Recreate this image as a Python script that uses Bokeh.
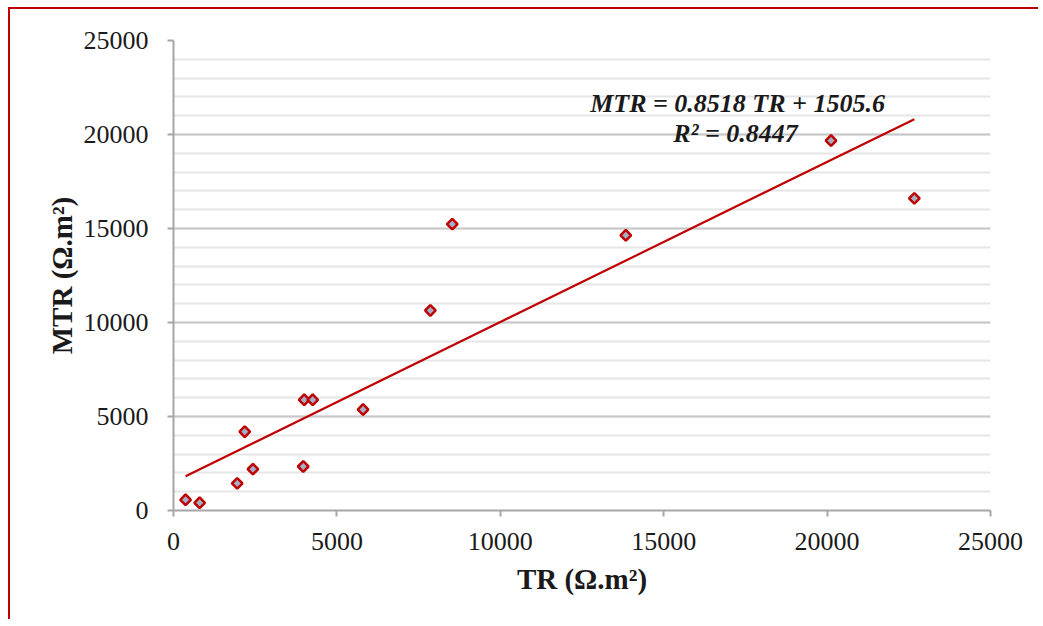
import math
from bokeh.plotting import figure
from bokeh.models import ColumnDataSource, SingleIntervalTicker, Range1d
from bokeh.embed import file_html
from bokeh.resources import INLINE
from bokeh.core.properties import value

# data
tr = [370, 800, 1950, 2180, 2430, 3970, 4000, 4260, 5800, 7860, 8530, 13840, 20120, 22670]
mtr = [570, 410, 1440, 4190, 2200, 2340, 5890, 5890, 5370, 10640, 15230, 14640, 19680, 16600]
slope = 0.8518
intercept = 1505.6
eq_line1 = "MTR = 0.8518 TR + 1505.6"
eq_line2 = "R² = 0.8447"
x_label = "TR (Ω.m²)"
y_label = "MTR (Ω.m²)"

red = "#c00000"
serif = "Liberation Serif"

p = figure(width=1030, height=612, output_backend="svg", toolbar_location=None,
           x_range=Range1d(0, 25000), y_range=Range1d(0, 25000),
           min_border_left=163, min_border_right=50, min_border_top=31, min_border_bottom=111)
p.margin = (7, 0, 0, 8)
p.styles = {"border-left": f"2px solid {red}", "border-top": f"2px solid {red}"}
p.outline_line_color = None
p.background_fill_color = "white"

for ax in (p.xaxis[0], p.yaxis[0]):
    ax.ticker = SingleIntervalTicker(interval=5000, num_minor_ticks=5)
    ax.axis_line_color = "#a6a6a6"
    ax.axis_line_width = 2
    ax.major_tick_line_color = "#a6a6a6"
    ax.major_tick_line_width = 2
    ax.major_tick_out = 6
    ax.major_tick_in = 0
    ax.minor_tick_line_color = None
    ax.major_label_text_font = serif
    ax.major_label_text_font_size = "26px"
    ax.major_label_text_color = "#1a1a1a"
    ax.axis_label_text_font = serif
    ax.axis_label_text_font_style = "bold"
    ax.axis_label_text_font_size = "29px"
    ax.axis_label_text_color = "#1a1a1a"

p.xaxis[0].axis_label = x_label
p.yaxis[0].axis_label = y_label
p.xaxis[0].major_label_standoff = 16
p.yaxis[0].major_label_standoff = 19
p.xaxis[0].axis_label_standoff = 10
p.yaxis[0].axis_label_standoff = 3

p.xgrid.visible = False
p.ygrid[0].ticker = SingleIntervalTicker(interval=5000, num_minor_ticks=5)
p.ygrid[0].grid_line_color = "#c8c8c8"
p.ygrid[0].grid_line_width = 2
p.ygrid[0].minor_grid_line_color = "#e6e6e6"
p.ygrid[0].minor_grid_line_width = 2

# trend line
x0, x1 = min(tr), max(tr)
p.line([x0, x1], [slope * x0 + intercept, slope * x1 + intercept], line_color=red, line_width=2.2)

src = ColumnDataSource(dict(x=tr, y=mtr))
p.scatter("x", "y", source=src, marker="square", angle=math.pi / 4, size=7.5,
          fill_color="#a3afc4", line_color=red, line_width=2.5)

p.text(x=[17260], y=[21650], text=[eq_line1], text_font=value(serif), text_font_size="26px",
       text_font_style="bold italic", text_align="center", text_baseline="middle", text_color="#1a1a1a")
p.text(x=[17200], y=[20050], text=[eq_line2], text_font=value(serif), text_font_size="26px",
       text_font_style="bold italic", text_align="center", text_baseline="middle", text_color="#1a1a1a")

open("out.html", "w").write(file_html(p, INLINE))
